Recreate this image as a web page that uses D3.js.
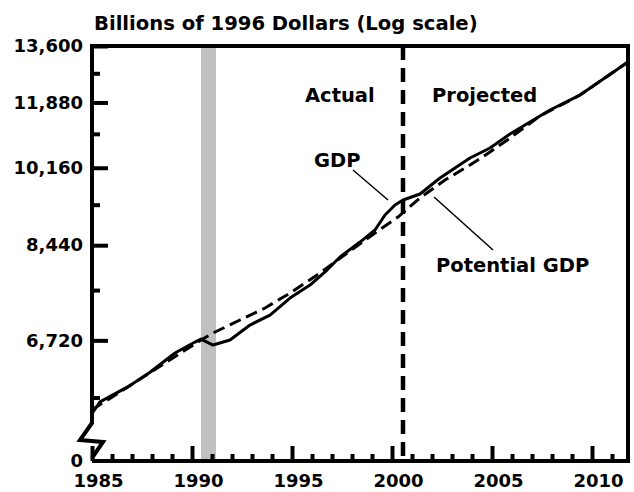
<!DOCTYPE html>
<html>
<head>
<meta charset="utf-8">
<script src="https://cdn.jsdelivr.net/npm/d3@7"></script>
<style>
  body { margin: 0; background: #fff; }
  svg text { font-family: "DejaVu Sans", "Liberation Sans", sans-serif; font-weight: bold; fill: #000; }
</style>
</head>
<body>
<svg width="634" height="492"></svg>
<script>
// GDP, actual then projected (billions of 1996 dollars)
const gdpYears = [1985.0, 1985.4, 1986.9, 1987.9, 1989.15, 1990.15, 1990.45, 1991.05, 1991.9, 1992.9,
  1993.9, 1994.9, 1995.9, 1996.75, 1997.4, 1998.4, 1999.15, 1999.65, 2000.15, 2000.55,
  2001.4, 2002.4, 2003.9, 2004.9, 2005.9, 2007.9, 2009.4, 2011.8];
const gdpValues = [5640, 5800, 6030, 6225, 6520, 6693, 6741, 6645, 6725, 6971,
  7140, 7437, 7672, 7953, 8205, 8504, 8753, 9073, 9293, 9405,
  9541, 9913, 10400, 10653, 11016, 11668, 12093, 13089];

// potential GDP
const potYears = [1985.0, 1987.9, 1990.45, 1991.05, 1992.4, 1993.65, 1994.9, 1996.4, 1997.9, 1999.15, 2000.3,
  2001.4, 2002.65, 2003.9, 2004.9, 2005.9, 2007.4, 2009.4, 2011.8];
const potValues = [5690, 6218, 6725, 6839, 7056, 7261, 7526, 7896, 8323, 8690, 9029,
  9451, 9866, 10227, 10551, 10910, 11500, 12093, 13089];

const recession = [1990.45, 1991.2];
const projectionStart = 2000.55;

const yMajor = [13600, 11880, 10160, 8440, 6720];
const yMinor = [12740, 11020, 9300, 7580, 5860];
const xMajor = [1985, 1990, 1995, 2000, 2005, 2010];
const xMinor = d3.range(1986, 2012).filter(d => d % 5 != 0);

const svg = d3.select('svg');

const plotL = 92, plotR = 628, plotT = 46, plotB = 461;
const x = d3.scaleLinear().domain([1985, 2011.8]).range([plotL, plotR]);
const y = d3.scaleLog().domain([5500, 13600]).range([424, plotT]);

// recession shading
svg.append('rect')
  .attr('x', x(recession[0]))
  .attr('width', x(recession[1]) - x(recession[0]))
  .attr('y', plotT)
  .attr('height', plotB - plotT)
  .attr('fill', '#c0c0c0');

// title
svg.append('text')
  .attr('x', 94)
  .attr('y', 30)
  .style('font-size', '19.6px')
  .text('Billions of 1996 Dollars (Log scale)');

// y axis ticks (inside) with labels on the left
const yAxis = d3.axisLeft(y).tickValues(yMajor).tickSize(-16).tickPadding(9)
  .tickFormat(d3.format(','));
const gy = svg.append('g').attr('transform', `translate(${plotL},0)`).call(yAxis);
gy.select('.domain').remove();
gy.selectAll('line').attr('stroke', '#000').attr('stroke-width', 4);
gy.selectAll('text').style('font-size', '18px').attr('font-family', null);

const gy2 = svg.append('g').attr('transform', `translate(${plotL},0)`)
  .call(d3.axisLeft(y).tickValues(yMinor).tickSize(-8).tickFormat(''));
gy2.select('.domain').remove();
gy2.selectAll('line').attr('stroke', '#000').attr('stroke-width', 4);

// x axis
const xAxis = d3.axisBottom(x).tickValues(xMajor).tickSize(-15).tickPadding(13)
  .tickFormat(d3.format('d'));
const gx = svg.append('g').attr('transform', `translate(0,${plotB})`).call(xAxis);
gx.select('.domain').remove();
gx.selectAll('line').attr('stroke', '#000').attr('stroke-width', 4);
gx.selectAll('text').style('font-size', '18px').attr('font-family', null).attr('dx', 6);

const gx2 = svg.append('g').attr('transform', `translate(0,${plotB})`)
  .call(d3.axisBottom(x).tickValues(xMinor).tickSize(-7).tickFormat(''));
gx2.select('.domain').remove();
gx2.selectAll('line').attr('stroke', '#000').attr('stroke-width', 4);

// "0" label for the broken axis
svg.append('text')
  .attr('x', 83)
  .attr('y', plotB)
  .attr('dy', '0.35em')
  .attr('text-anchor', 'end')
  .style('font-size', '18px')
  .text('0');

// frame: left axis with break, top, right, bottom
svg.append('path')
  .attr('d', `M${plotL},${plotB} L${plotR},${plotB} L${plotR},${plotT} L${plotL},${plotT} L${plotL},423 L80,440 L103,442 L${plotL},458`)
  .attr('fill', 'none')
  .attr('stroke', '#000')
  .attr('stroke-width', 4)
  .attr('stroke-linejoin', 'miter');

// actual / projected divider
svg.append('line')
  .attr('x1', x(projectionStart)).attr('x2', x(projectionStart))
  .attr('y1', plotT).attr('y2', plotB)
  .attr('stroke', '#000')
  .attr('stroke-width', 4.5)
  .attr('stroke-dasharray', '14,8');

const line = d3.line()
  .x(d => x(d[0]))
  .y(d => y(d[1]));

svg.append('path')
  .datum(potYears.map((yr, i) => [yr, potValues[i]]))
  .attr('d', line)
  .attr('fill', 'none')
  .attr('stroke', '#000')
  .attr('stroke-width', 3)
  .attr('stroke-dasharray', '12,6');

svg.append('path')
  .datum(gdpYears.map((yr, i) => [yr, gdpValues[i]]))
  .attr('d', line)
  .attr('fill', 'none')
  .attr('stroke', '#000')
  .attr('stroke-width', 3)
  .attr('stroke-linejoin', 'round');

// labels and leader lines
function label(txt, px, py) {
  svg.append('text').attr('x', px).attr('y', py).style('font-size', '19.5px').text(txt);
}
label('Actual', 305, 102);
label('Projected', 432, 102);
label('GDP', 314, 167);
label('Potential GDP', 436, 272);

svg.append('line').attr('x1', 353).attr('y1', 170).attr('x2', 388).attr('y2', 200)
  .attr('stroke', '#000').attr('stroke-width', 1.5);
svg.append('line').attr('x1', 434).attr('y1', 197).attr('x2', 493).attr('y2', 250)
  .attr('stroke', '#000').attr('stroke-width', 1.5);
</script>
</body>
</html>
